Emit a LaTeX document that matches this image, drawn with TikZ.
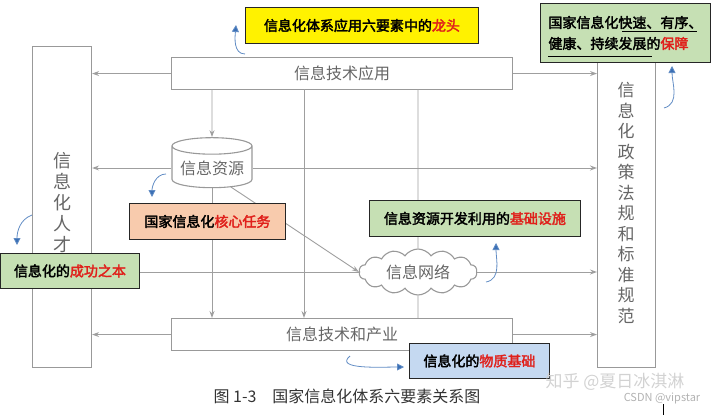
\documentclass[tikz,border=0pt]{standalone}
\usepackage{fontspec}
\setmainfont{Noto Sans CJK SC}
\newfontfamily\cjkb[FakeBold=2.5]{Noto Sans CJK SC}
\usetikzlibrary{shapes.geometric,shapes.symbols,arrows.meta}
\definecolor{lgreen}{HTML}{C6E0B4}
\definecolor{lpink}{HTML}{F8CBAD}
\definecolor{lblue}{HTML}{C5D9F1}
\definecolor{cred}{HTML}{E0201B}
\definecolor{cblue}{HTML}{3A6FB5}
\tikzset{
 box/.style={draw=gray!80, line width=1.1pt, fill=white},
 conn/.style={draw=gray!75, line width=0.9pt},
 arr/.style={conn,-{Stealth[length=7pt,width=5pt,open]}},
 lab/.style={text=gray!80!black, font=\fontsize{16}{16}\selectfont},
 call/.style={draw=black!85, line width=0.9pt, font=\cjkb\fontsize{14}{16}\selectfont, inner sep=0pt},
 barr/.style={draw=cblue!80, line width=0.8pt,-{Triangle[length=7pt,width=7pt,fill=cblue]}},
}
\begin{document}
\begin{tikzpicture}[x=1pt,y=-1pt]
\useasboundingbox (0,0) rectangle (720,415);
% main boxes
\node[box, minimum width=341pt, minimum height=32pt, lab, anchor=north west] (app) at (171,57) {信息技术应用};
\node[box, minimum width=341pt, minimum height=32pt, lab, anchor=north west] (ind) at (171,318) {信息技术和产业};
\node[box, minimum width=59pt, minimum height=321pt, anchor=north west] (ppl) at (32,46) {};
\node[lab, align=center, font=\fontsize{18}{21}\selectfont] at (62,203) {信\\息\\化\\人\\才};
\node[box, minimum width=58pt, minimum height=305pt, anchor=north west] (law) at (597,62) {};
\node[lab, align=center, font=\fontsize{17}{20.5}\selectfont] at (626,203) {信\\息\\化\\政\\策\\法\\规\\和\\标\\准\\规\\范};
\node[box, cylinder, shape border rotate=90, aspect=0.25, minimum width=80pt, minimum height=50pt, lab, inner sep=1pt] (res) at (212,168) {信息资源};
\node[box, cloud, cloud puffs=14, cloud puff arc=110, aspect=2.6, minimum width=118pt, minimum height=46pt, lab, inner sep=0pt] (net) at (418,272) {信息网络};
\coordinate (a1) at (212,89); \coordinate (a2) at (304,89); \coordinate (a3) at (418,89);
\coordinate (b1) at (212,318); \coordinate (b2) at (304,318); \coordinate (b3) at (418,318);
% connectors
\draw[arr] (a1) -- (res.north);
\draw[arr] (res.south) -- (b1);
\draw[arr] (a2) -- (b2);
\draw[conn] (a3) -- (net.north);
\draw[conn] (net.south) -- (b3);
\draw[arr] (app.west) -- (app.west -| ppl.east);
\draw[arr] (app.east) -- (app.east -| law.west);
\draw[arr] (res.west) -- (res.west -| ppl.east);
\draw[arr] (res.east) -- (res.east -| law.west);
\draw[conn] (net.west) -- (net.west -| ppl.east);
\draw[arr] (net.east) -- (net.east -| law.west);
\draw[arr] (ind.west) -- (ind.west -| ppl.east);
\draw[arr] (ind.east) -- (ind.east -| law.west);
\draw[arr] (res.south east) -- (net.west);
% callouts
\node[call, fill=yellow, minimum width=233pt, minimum height=36pt, anchor=north west] (c1) at (245,7) {信息化体系应用六要素中的\textcolor{cred}{龙头}};
\node[call, fill=lgreen, minimum width=170pt, minimum height=59pt, anchor=north west, align=left] (c2) at (540,3) {国家信息化快速、有序、\\[5pt]健康、持续发展的\textcolor{cred}{保障}};
\draw[black, line width=0.8pt] (622,31) -- (697,31) (548,56) -- (652,56);
\node[call, fill=lpink, minimum width=156pt, minimum height=36pt, anchor=north west] (c3) at (129,203) {国家信息化\textcolor{cred}{核心任务}};
\node[call, fill=lgreen, minimum width=211pt, minimum height=36pt, anchor=north west] (c4) at (369,200) {信息资源开发利用的\textcolor{cred}{基础设施}};
\node[call, fill=lgreen, minimum width=139pt, minimum height=35pt, anchor=north west] (c5) at (0,253) {信息化的\textcolor{cred}{成功之本}};
\node[call, fill=lblue, minimum width=140pt, minimum height=35pt, anchor=north west] (c6) at (409,343) {信息化的\textcolor{cred}{物质基础}};
% blue curved arrows
\coordinate (p1) at (245,54); \coordinate (q1) at (236,25);
\draw[barr] (p1) to[out=180,in=-95] (q1);
\coordinate (p2) at (166,174); \coordinate (q2) at (152,197);
\draw[barr] (p2) to[out=180,in=90] (q2);
\coordinate (p3) at (32,215); \coordinate (q3) at (17,245);
\draw[barr] (p3) to[out=200,in=90] (q3);
\coordinate (p4) at (664,108); \coordinate (q4) at (672,66);
\draw[barr] (p4) to[out=15,in=-90] (q4);
\coordinate (p5) at (486,282); \coordinate (q5) at (496,243);
\draw[barr] (p5) to[out=10,in=-90] (q5);
\coordinate (p6) at (350,356); \coordinate (q6) at (404,367);
\draw[barr] (p6) to[out=220,in=180] (q6);
% caption and marks
\node[font=\fontsize{16}{16}\selectfont, text=black!80] (cap) at (347,396) {图 1-3\quad 国家信息化体系六要素关系图};
\node[font=\fontsize{17}{17}\selectfont, text=gray!35] (wm) at (615,382) {知乎 @夏日冰淇淋};
\node[font=\fontsize{11}{11}\selectfont, text=gray!60] (wm2) at (662,398) {CSDN @vipstar};
\draw[black, line width=0.6pt] (663,404) -- (663,415);
\end{tikzpicture}
\end{document}
